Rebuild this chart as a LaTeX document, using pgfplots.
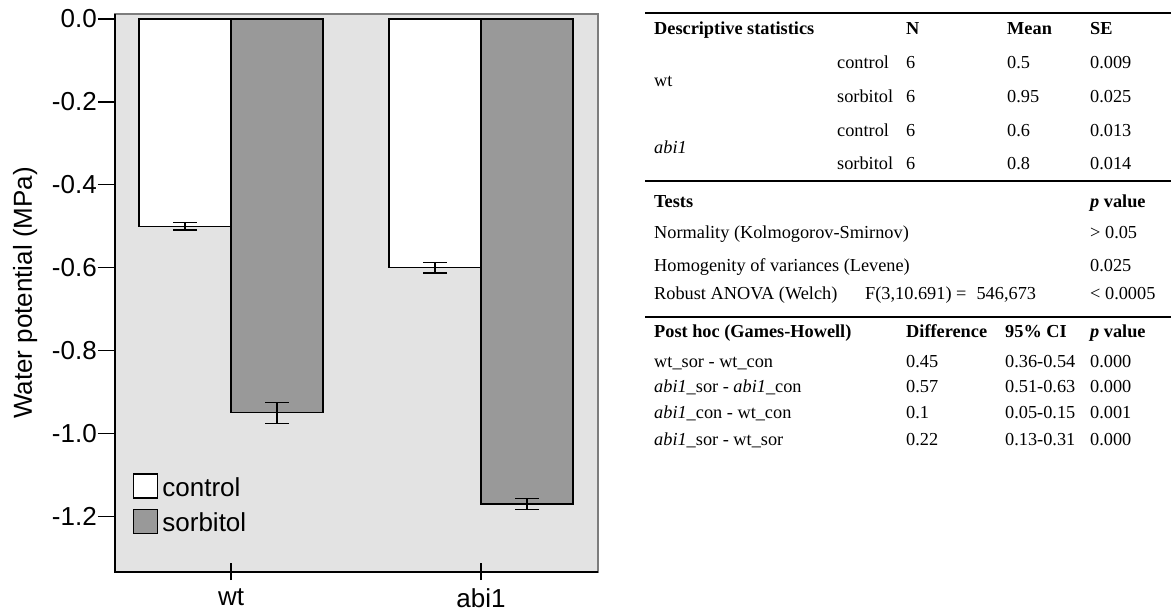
\documentclass[border=0pt]{standalone}
\usepackage{pgfplots}
\pgfplotsset{compat=1.18}
\usepackage{fontspec}
\setmainfont{Liberation Sans}
\newfontfamily\tnr{Liberation Serif}
\definecolor{panel}{RGB}{227,227,227}
\definecolor{sorb}{RGB}{153,153,153}
\definecolor{framegray}{RGB}{125,125,125}

% one cell of the statistics table: x, y (from the top), content
\newcommand\cell[3]{\node[anchor=west,inner sep=0pt,text height=12pt,text depth=0pt,
  font=\tnr\fontsize{18.3}{21}\selectfont] at (#1pt,-#2pt) {#3};}

\begin{document}
\begin{tikzpicture}
\useasboundingbox (0,0) rectangle (1171pt,-612pt);
\begin{axis}[
  at={(115pt,-572pt)}, anchor=south west,
  scale only axis, width=483pt, height=558pt,
  xmin=-0.464, xmax=1.468, ymin=-1.334, ymax=0.012,
  ybar=0pt, bar width=0.368,
  xtick={0,1}, xticklabels={wt,abi1},
  ytick={-1.2,-1.0,-0.8,-0.6,-0.4,-0.2,0},
  xtick pos=bottom, ytick pos=left,
  /pgf/number format/assume math mode=true,
  yticklabel style={/pgf/number format/fixed,/pgf/number format/fixed zerofill,
    /pgf/number format/precision=1, inner sep=1pt},
  xticklabel style={inner sep=0pt, yshift=1pt},
  tick label style={font=\fontsize{26}{30}\selectfont},
  tick align=outside, major tick length=17pt,
  tick style={black, line width=1.3pt},
  xtick style={yshift=9pt},
  axis line style={framegray, line width=1.2pt},
  axis background/.style={fill=panel},
  ylabel={Water potential (MPa)},
  ylabel style={at={(axis description cs:-0.186,0.5)}, anchor=center,
    font=\fontsize{26}{30}\selectfont},
  legend style={draw=none, fill=none, at={(axis description cs:0.0373,0.0681)},
    anchor=south west, inner sep=0pt, row sep=10pt, column sep=4pt,
    font=\fontsize{26}{30}\selectfont, nodes={inner sep=0pt}},
  legend cell align=left,
  extra description/.code={\draw[black, line width=1.3pt]
    (rel axis cs:0,1) -- (rel axis cs:0,0) -- (rel axis cs:1,0);},
  error bars/y dir=both, error bars/y explicit,
  error bars/error bar style={black, line width=1.3pt},
  error bars/error mark options={rotate=90, mark size=12pt, black, line width=1.3pt},
]
\addplot[draw=black, fill=white, line width=1.3pt,
  legend image code/.code={\draw[black, fill=white, line width=1.2pt] (0pt,-10.3pt) rectangle (24pt,13.7pt);}]
  coordinates {(0,-0.50) +- (0,0.009) (1,-0.60) +- (0,0.013)};
\addplot[draw=black, fill=sorb, line width=1.3pt,
  legend image code/.code={\draw[black, fill=sorb, line width=1.2pt] (0pt,-10.3pt) rectangle (24pt,13.7pt);}]
  coordinates {(0,-0.95) +- (0,0.025) (1,-1.17) +- (0,0.014)};
\legend{control,sorbitol}
\end{axis}

% rules of the table
\draw[black, line width=2pt] (645pt,-13pt) -- (1171pt,-13pt);
\draw[black, line width=2pt] (645pt,-181pt) -- (1171pt,-181pt);
\draw[black, line width=2pt] (645pt,-317pt) -- (1171pt,-317pt);

% descriptive statistics
\cell{654}{29}{\textbf{Descriptive statistics}}
\cell{906}{29}{\textbf{N}}
\cell{1007}{29}{\textbf{Mean}}
\cell{1090}{29}{\textbf{SE}}
\cell{654}{81}{wt}
\cell{837}{63}{control}  \cell{906}{63}{6} \cell{1007}{63}{0.5}  \cell{1090}{63}{0.009}
\cell{837}{97}{sorbitol} \cell{906}{97}{6} \cell{1007}{97}{0.95} \cell{1090}{97}{0.025}
\cell{654}{148}{\textit{abi1}}
\cell{837}{131}{control}  \cell{906}{131}{6} \cell{1007}{131}{0.6} \cell{1090}{131}{0.013}
\cell{837}{164}{sorbitol} \cell{906}{164}{6} \cell{1007}{164}{0.8} \cell{1090}{164}{0.014}

% tests
\cell{654}{202}{\textbf{Tests}}
\cell{1090}{202}{\textbf{\textit{p} value}}
\cell{654}{233}{Normality (Kolmogorov-Smirnov)}
\cell{1090}{233}{> 0.05}
\cell{654}{266}{Homogenity of variances (Levene)}
\cell{1090}{266}{0.025}
\cell{654}{294}{Robust ANOVA (Welch)}
\cell{865}{294}{F(3,10.691) =\hspace{0.55em}546,673}
\cell{1090}{294}{< 0.0005}

% post hoc comparisons
\cell{654}{332}{\textbf{Post hoc (Games-Howell)}}
\cell{906}{332}{\textbf{Difference}}
\cell{1005}{332}{\textbf{95\% CI}}
\cell{1090}{332}{\textbf{\textit{p} value}}
\cell{654}{362}{wt\_sor - wt\_con}
\cell{906}{362}{0.45} \cell{1005}{362}{0.36-0.54} \cell{1090}{362}{0.000}
\cell{654}{387}{\textit{abi1}\_sor - \textit{abi1}\_con}
\cell{906}{387}{0.57} \cell{1005}{387}{0.51-0.63} \cell{1090}{387}{0.000}
\cell{654}{413}{\textit{abi1}\_con - wt\_con}
\cell{906}{413}{0.1} \cell{1005}{413}{0.05-0.15} \cell{1090}{413}{0.001}
\cell{654}{440}{\textit{abi1}\_sor - wt\_sor}
\cell{906}{440}{0.22} \cell{1005}{440}{0.13-0.31} \cell{1090}{440}{0.000}
\end{tikzpicture}
\end{document}
